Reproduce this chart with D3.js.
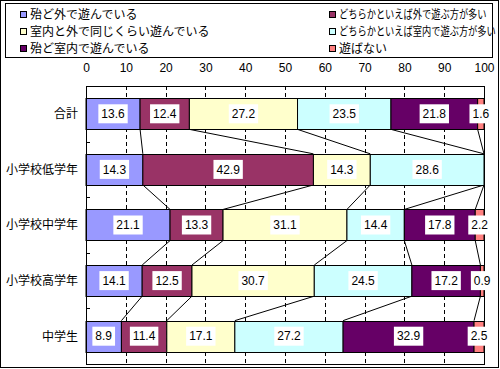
<!DOCTYPE html>
<html><head><meta charset="utf-8">
<script src="https://cdn.jsdelivr.net/npm/d3@7"></script>
<style>
html,body{margin:0;padding:0;background:#fff;}
svg{display:block;}
text{font-family:"Noto Sans CJK JP","Noto Sans",sans-serif;}
.num{font-family:"Liberation Sans",Arial,sans-serif;}
</style></head>
<body>
<script>
const categories = ["合計","小学校低学年","小学校中学年","小学校高学年","中学生"];
const seriesNames = ["殆ど外で遊んでいる","どちらかといえば外で遊ぶ方が多い","室内と外で同じくらい遊んでいる","どちらかといえば室内で遊ぶ方が多い","殆ど室内で遊んでいる","遊ばない"];
const seriesColors = ["#9999FF","#993366","#FFFFCC","#CCFFFF","#660066","#FF8080"];
const s1 = [13.6, 14.3, 21.1, 14.1, 8.9];
const s2 = [12.4, 42.9, 13.3, 12.5, 11.4];
const s3 = [27.2, 14.3, 31.1, 30.7, 17.1];
const s4 = [23.5, 28.6, 14.4, 24.5, 27.2];
const s5 = [21.8, 0, 17.8, 17.2, 32.9];
const s6 = [1.6, 0, 2.2, 0.9, 2.5];
const xTicks = [0,10,20,30,40,50,60,70,80,90,100];

const series = [s1,s2,s3,s4,s5,s6];
const W = 500, H = 369;
const svg = d3.select("body").append("svg").attr("width", W).attr("height", H);

// outer border
svg.append("rect").attr("x",0.5).attr("y",0.5).attr("width",498).attr("height",367)
  .attr("fill","#fff").attr("stroke","#000");

// legend
const lg = svg.append("g");
lg.append("rect").attr("x",5.5).attr("y",3.5).attr("width",487).attr("height",54)
  .attr("fill","#fff").attr("stroke","#000");
const legPos = [[20,15],[329,15],[20,32],[329,32],[20,49],[329,49]];
const legScale = [1,0.77,1,0.77,1,1];
seriesNames.forEach((n,i)=>{
  const [lx,ly] = legPos[i];
  lg.append("rect").attr("x",lx+0.5).attr("y",ly-3.5).attr("width",6).attr("height",6)
    .attr("fill",seriesColors[i]).attr("stroke","#000");
  lg.append("text")
    .attr("transform",`translate(${lx+10},${ly}) scale(${legScale[i]},1)`)
    .attr("dy","0.36em").attr("font-size",12).text(n);
});

// scales
const x = d3.scaleLinear().domain([0,100]).range([86,484]);
const y = d3.scaleBand().domain(categories).range([86,364]).paddingInner(0.44).paddingOuter(0.22);

// gridlines
const g = svg.append("g");
g.selectAll("line.grid").data(xTicks.slice(1,-1)).join("line")
  .attr("x1",d=>Math.round(x(d))+0.5).attr("x2",d=>Math.round(x(d))+0.5)
  .attr("y1",86).attr("y2",364).attr("stroke","#000").attr("stroke-dasharray","4,3");

// top axis labels
const xAxis = d3.axisTop(x).tickValues(xTicks).tickSize(0).tickPadding(0);
const ax = svg.append("g").attr("transform","translate(0,72)").call(xAxis);
ax.select(".domain").remove();
ax.selectAll("text").attr("class","num").attr("font-size",12).attr("fill","#000")
  .attr("dy",0).style("font-family","'Liberation Sans',Arial,sans-serif");

// stacked normalized
const rows = categories.map((c,ci)=>{
  const vals = series.map(s=>s[ci]);
  const tot = d3.sum(vals);
  let acc = 0;
  const segs = vals.map((v,si)=>{ const a=acc; acc+=v; return {c, si, v, x0:a/tot*100, x1:acc/tot*100}; });
  return {c, segs};
});

// series lines
const sl = svg.append("g");
for (let i=0;i<rows.length-1;i++){
  for (let k=0;k<5;k++){
    const a = rows[i].segs[k].x1, b = rows[i+1].segs[k].x1;
    sl.append("line")
      .attr("x1",x(a)).attr("y1",y(rows[i].c)+y.bandwidth())
      .attr("x2",x(b)).attr("y2",y(rows[i+1].c))
      .attr("stroke","#000").attr("stroke-width",1);
  }
}

// bars
const bars = svg.append("g");
rows.forEach(r=>{
  bars.selectAll(null).data(r.segs.filter(s=>s.v>0)).join("rect")
    .attr("x",d=>x(d.x0)).attr("width",d=>x(d.x1)-x(d.x0))
    .attr("y",Math.round(y(r.c))+0.5).attr("height",Math.round(y.bandwidth()))
    .attr("fill",d=>seriesColors[d.si]).attr("stroke","#000").attr("stroke-width",1);
});

// plot border
svg.append("rect").attr("x",86.5).attr("y",86.5).attr("width",398).attr("height",278)
  .attr("fill","none").attr("stroke","#000");

// category ticks (band boundaries)
const bnds = categories.slice(1).map(c=>y(c)-(y.step()-y.bandwidth())/2);
svg.selectAll("line.ctick").data(bnds).join("line")
  .attr("x1",86).attr("x2",90).attr("y1",d=>Math.round(d)+0.5).attr("y2",d=>Math.round(d)+0.5)
  .attr("stroke","#000");

// category labels
svg.selectAll("text.cat").data(categories).join("text")
  .attr("x",78).attr("y",d=>y(d)+y.bandwidth()/2).attr("dy","0.36em")
  .attr("text-anchor","end").attr("font-size",12).text(d=>d);

// value labels
const lab = svg.append("g");
rows.forEach(r=>{
  r.segs.filter(s=>s.v>0).forEach(s=>{
    const cx = x((s.x0+s.x1)/2), cy = y(r.c)+y.bandwidth()/2;
    const t = lab.append("text").attr("class","num").attr("x",cx).attr("y",cy).attr("dy","0.35em")
      .attr("text-anchor","middle").attr("font-size",12).text(s.v.toFixed(1));
    const w = t.node().getComputedTextLength();
    lab.insert("rect","text:last-child").attr("x",cx-w/2-3).attr("y",cy-9.5)
      .attr("width",w+6).attr("height",19).attr("fill","#fff");
  });
});
</script>
</body></html>
